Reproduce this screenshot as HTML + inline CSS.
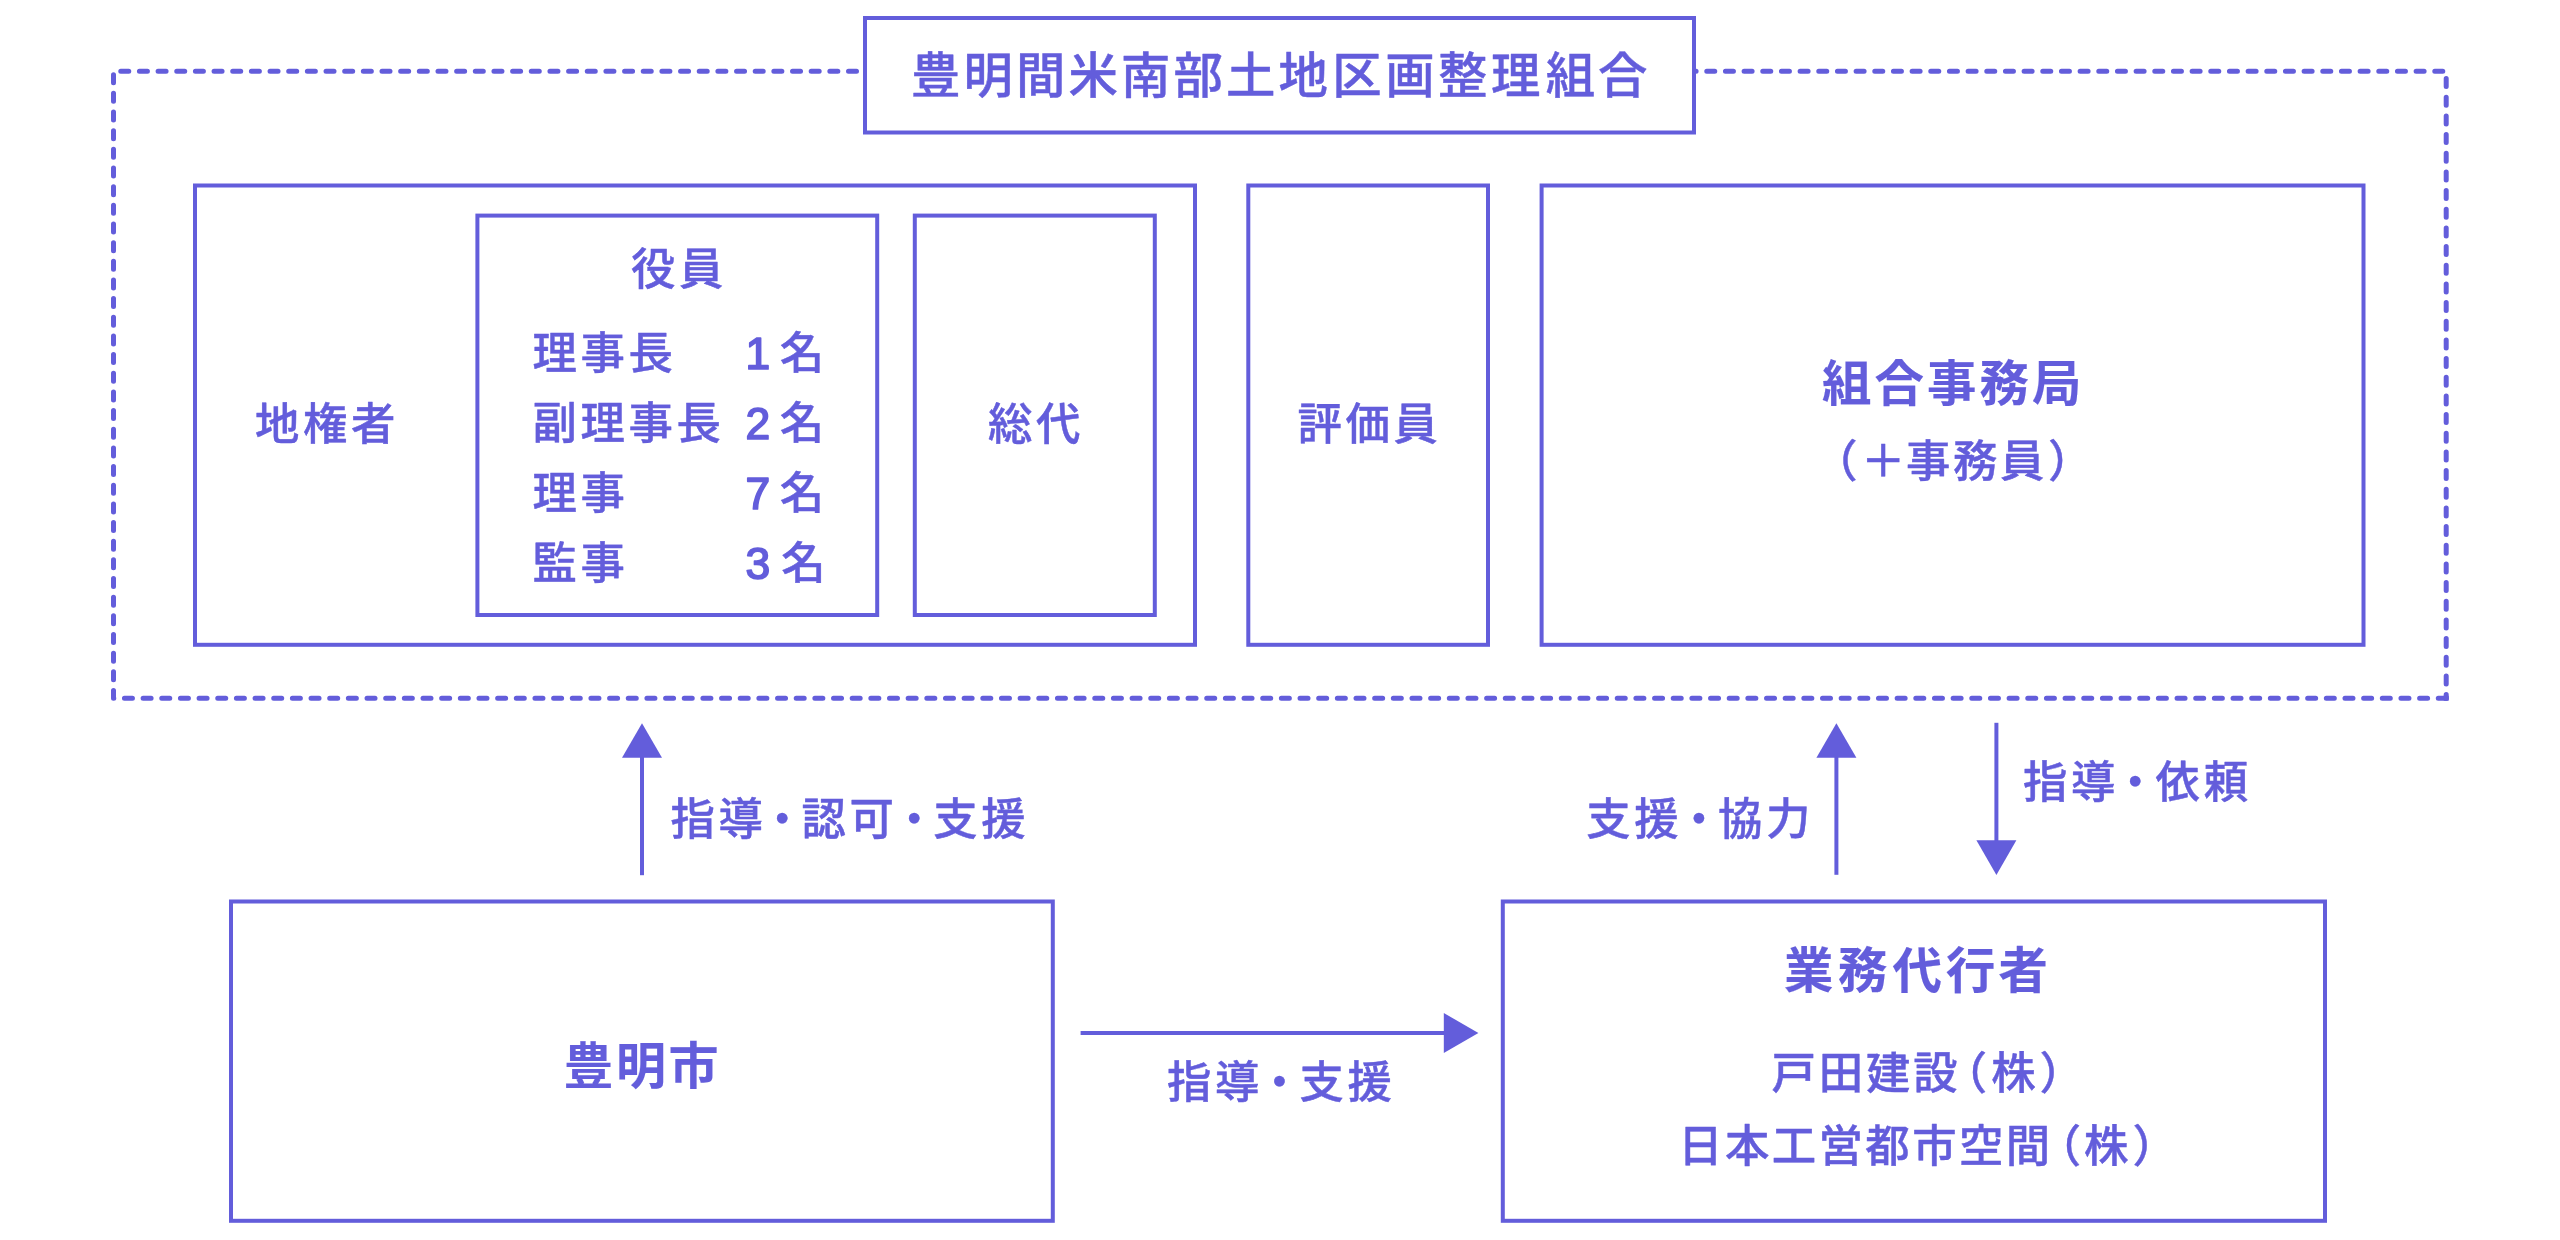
<!DOCTYPE html>
<html lang="ja">
<head>
<meta charset="utf-8">
<title>豊明間米南部土地区画整理組合 組織図</title>
<style>
html,body{margin:0;padding:0;background:#fff;}
body{width:2560px;height:1240px;overflow:hidden;}
svg{display:block;will-change:transform;}
text{font-family:"Liberation Sans", "Noto Sans CJK JP", sans-serif;fill:#635DDB;stroke:#635DDB;stroke-width:0.45;stroke-linejoin:round;}
text.m{font-weight:500;}
text.b{font-weight:700;stroke-width:0.15;}
tspan.n{stroke-width:1.7;}
.box rect{fill:none;stroke:#635DDB;stroke-width:4;}
.box rect[fill]{fill:#fff;}
path.d{fill:none;stroke:#635DDB;stroke-width:5;stroke-linecap:round;stroke-linejoin:round;}
rect.c{fill:#635DDB;}
path.l{fill:none;stroke:#635DDB;stroke-width:4;}
path.h{fill:#635DDB;stroke:none;}
</style>
</head>
<body>
<svg width="2560" height="1240" viewBox="0 0 2560 1240">
<g class="dash">
<path class="d" stroke-dasharray="8 10.66" d="M856.5 71.3H113.5V698.2H2446.2"/>
<path class="d" stroke-dasharray="8 10.667" d="M1688.1 71.3H2446.2V698.2"/>
<rect class="c" x="2443.7" y="695.7" width="5" height="5"/>
</g>
<g class="box">
<rect x="195" y="185.5" width="1000.00" height="459.30"/>
<rect x="477.4" y="215.6" width="399.80" height="399.40"/>
<rect x="914.8" y="215.6" width="240.00" height="399.40"/>
<rect x="1248.3" y="185.5" width="239.70" height="459.30"/>
<rect x="1541.6" y="185.5" width="821.90" height="459.30"/>
<rect x="231" y="901.5" width="821.80" height="319.30"/>
<rect x="1502.8" y="901.5" width="822.20" height="319.30"/>
<rect x="865" y="18" width="829.00" height="114.50" fill="#fff"/>
</g>
<g class="arrows">
<path class="l" d="M642 875.2V757"/><path class="h" d="M642 723.2L662 757.8H622Z"/>
<path class="l" d="M1836.4 874.8V757"/><path class="h" d="M1836.4 723.2L1856.4 757.8H1816.4Z"/>
<path class="l" d="M1996.4 722.8V841"/><path class="h" d="M1996.4 874.9L1976.4 840.3H2016.4Z"/>
<path class="l" d="M1080.6 1033H1445"/><path class="h" d="M1478.4 1033L1443.8 1013V1053Z"/>
</g>
<g class="labels">
<text class="m" y="93.30" x="911.00 963.50 1016.00 1068.50 1121.00 1173.50 1226.00 1278.50 1332.30 1385.30 1438.00 1491.00 1545.80 1598.00" font-size="49.4">豊明間米南部土地区画整理組合</text>
<text class="m" y="439.90" font-size="44.4" letter-spacing="3.65"><tspan x="255.00">地権者</tspan></text>
<text class="m" y="284.90" font-size="44.4" letter-spacing="3.65"><tspan x="631.00">役員</tspan></text>
<text class="m" y="369.10" font-size="44.4" letter-spacing="3.65"><tspan x="532.40">理事長</tspan><tspan x="745.50" class="n">1</tspan><tspan x="779.80">名</tspan></text>
<text class="m" y="439.10" font-size="44.4" letter-spacing="3.65"><tspan x="532.40">副理事長</tspan><tspan x="745.50" class="n">2</tspan><tspan x="779.80">名</tspan></text>
<text class="m" y="509.10" font-size="44.4" letter-spacing="3.65"><tspan x="532.40">理事</tspan><tspan x="745.50" class="n">7</tspan><tspan x="779.80">名</tspan></text>
<text class="m" y="579.10" font-size="44.4" letter-spacing="3.65"><tspan x="532.40">監事</tspan><tspan x="745.50" class="n">3</tspan><tspan x="781.30">名</tspan></text>
<text class="m" y="439.90" font-size="44.4" letter-spacing="3.65"><tspan x="988.00">総代</tspan></text>
<text class="m" y="439.90" font-size="44.4" letter-spacing="3.65"><tspan x="1297.50">評価員</tspan></text>
<text class="b" y="401.00" font-size="49.4" letter-spacing="3.1"><tspan x="1822.00">組合事務局</tspan></text>
<text class="m" y="476.70" font-size="44.4" letter-spacing="3.65"><tspan x="1813.20">（</tspan><tspan x="1861.00">＋</tspan><tspan x="1906.00" letter-spacing="2.6">事務員</tspan><tspan x="2047.90">）</tspan></text>
<text class="m" y="834.70" font-size="44.4" letter-spacing="3.65"><tspan x="670.50">指導</tspan><tspan x="760.10">・</tspan><tspan x="801.50">認可</tspan><tspan x="891.90">・</tspan><tspan x="933.20">支援</tspan></text>
<text class="m" y="834.90" font-size="44.4" letter-spacing="3.65"><tspan x="1586.20">支援</tspan><tspan x="1676.70">・</tspan><tspan x="1718.00">協力</tspan></text>
<text class="m" y="797.90" font-size="44.4" letter-spacing="3.65"><tspan x="2023.00">指導</tspan><tspan x="2112.90">・</tspan><tspan x="2155.60">依頼</tspan></text>
<text class="m" y="1098.10" font-size="44.4" letter-spacing="3.65"><tspan x="1167.00">指導</tspan><tspan x="1257.30">・</tspan><tspan x="1299.40">支援</tspan></text>
<text class="b" y="1084.10" font-size="50" letter-spacing="2.5"><tspan x="563.40">豊明市</tspan></text>
<text class="b" y="987.80" x="1784.10 1838.00 1892.60 1946.10 1998.50" font-size="49.4">業務代行者</text>
<text class="m" y="1088.90" font-size="44.4" letter-spacing="3.65"><tspan x="1771.50" letter-spacing="2.9">戸田建設</tspan><tspan x="1942.80">（</tspan><tspan x="1991.30">株</tspan><tspan x="2039.50">）</tspan></text>
<text class="m" y="1161.90" font-size="44.4" letter-spacing="3.65"><tspan x="1678.20" letter-spacing="2.4">日本工営都市空間</tspan><tspan x="2036.80">（</tspan><tspan x="2084.00">株</tspan><tspan x="2132.50">）</tspan></text>
</g>
</svg>
</body>
</html>
